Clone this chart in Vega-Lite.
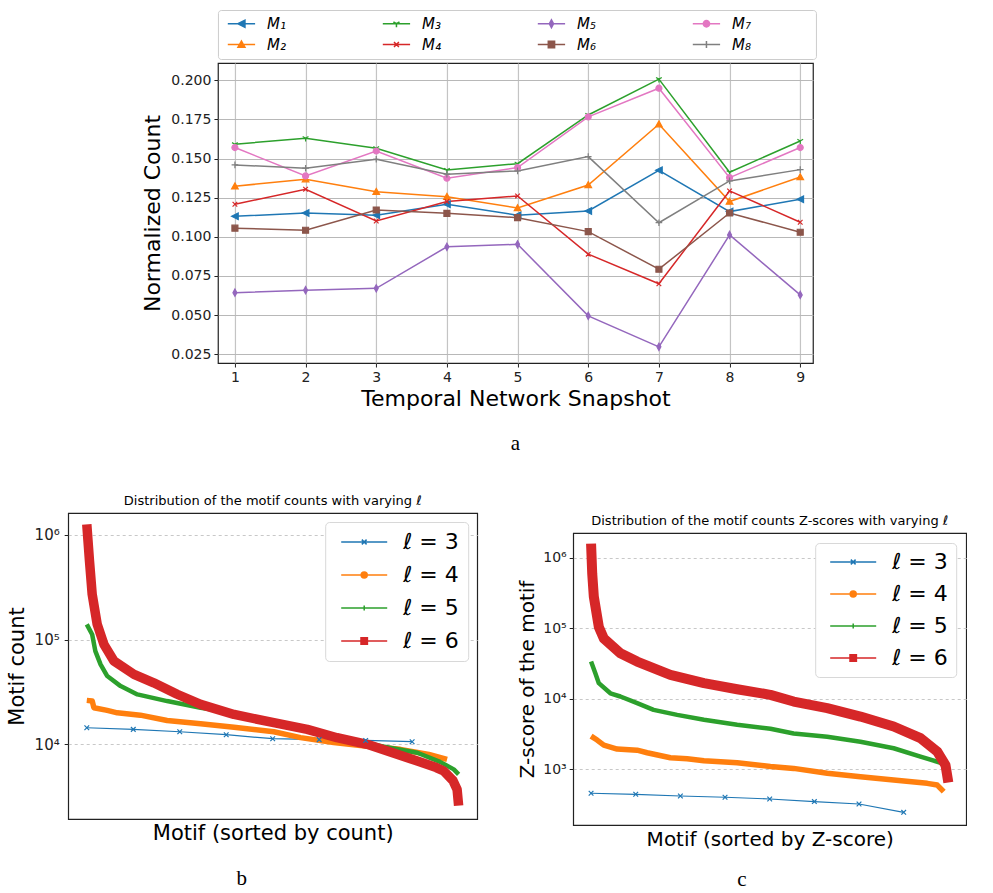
{
  "$schema": "https://vega.github.io/schema/vega-lite/v6.json",
  "padding": {"left": 5, "top": 8, "right": 0, "bottom": 0},
  "background": "white",
  "config": {
    "font": "DejaVu Sans",
    "view": {"stroke": "#222", "strokeWidth": 1.2},
    "axis": {"labelFont": "DejaVu Sans", "titleFont": "DejaVu Sans", "labelColor": "#222", "titleColor": "#000", "tickColor": "#222", "domain": false, "titleFontWeight": "normal"},
    "legend": {"labelFont": "DejaVu Sans", "labelColor": "#000"},
    "title": {"font": "DejaVu Sans", "fontWeight": "normal", "color": "#000"}
  },
  "resolve": {"scale": {"color": "independent"}, "legend": {"color": "independent"}},
  "datasets": {
    "top": [
      {"s": "M₁", "t": 1, "v": 0.1131}, {"s": "M₁", "t": 2, "v": 0.1152}, {"s": "M₁", "t": 3, "v": 0.1138}, {"s": "M₁", "t": 4, "v": 0.1208}, {"s": "M₁", "t": 5, "v": 0.1138}, {"s": "M₁", "t": 6, "v": 0.1165}, {"s": "M₁", "t": 7, "v": 0.1425}, {"s": "M₁", "t": 8, "v": 0.1161}, {"s": "M₁", "t": 9, "v": 0.124},
      {"s": "M₂", "t": 1, "v": 0.1323}, {"s": "M₂", "t": 2, "v": 0.1368}, {"s": "M₂", "t": 3, "v": 0.1288}, {"s": "M₂", "t": 4, "v": 0.1256}, {"s": "M₂", "t": 5, "v": 0.1184}, {"s": "M₂", "t": 6, "v": 0.1331}, {"s": "M₂", "t": 7, "v": 0.1719}, {"s": "M₂", "t": 8, "v": 0.1225}, {"s": "M₂", "t": 9, "v": 0.1382},
      {"s": "M₃", "t": 1, "v": 0.1591}, {"s": "M₃", "t": 2, "v": 0.163}, {"s": "M₃", "t": 3, "v": 0.1566}, {"s": "M₃", "t": 4, "v": 0.1427}, {"s": "M₃", "t": 5, "v": 0.1467}, {"s": "M₃", "t": 6, "v": 0.1778}, {"s": "M₃", "t": 7, "v": 0.2007}, {"s": "M₃", "t": 8, "v": 0.1412}, {"s": "M₃", "t": 9, "v": 0.1612},
      {"s": "M₄", "t": 1, "v": 0.1208}, {"s": "M₄", "t": 2, "v": 0.1304}, {"s": "M₄", "t": 3, "v": 0.1101}, {"s": "M₄", "t": 4, "v": 0.1225}, {"s": "M₄", "t": 5, "v": 0.1261}, {"s": "M₄", "t": 6, "v": 0.0889}, {"s": "M₄", "t": 7, "v": 0.07}, {"s": "M₄", "t": 8, "v": 0.1293}, {"s": "M₄", "t": 9, "v": 0.1093},
      {"s": "M₅", "t": 1, "v": 0.0643}, {"s": "M₅", "t": 2, "v": 0.0659}, {"s": "M₅", "t": 3, "v": 0.0671}, {"s": "M₅", "t": 4, "v": 0.0936}, {"s": "M₅", "t": 5, "v": 0.0952}, {"s": "M₅", "t": 6, "v": 0.0495}, {"s": "M₅", "t": 7, "v": 0.0297}, {"s": "M₅", "t": 8, "v": 0.1012}, {"s": "M₅", "t": 9, "v": 0.0629},
      {"s": "M₆", "t": 1, "v": 0.1055}, {"s": "M₆", "t": 2, "v": 0.1042}, {"s": "M₆", "t": 3, "v": 0.1171}, {"s": "M₆", "t": 4, "v": 0.115}, {"s": "M₆", "t": 5, "v": 0.1122}, {"s": "M₆", "t": 6, "v": 0.1033}, {"s": "M₆", "t": 7, "v": 0.0793}, {"s": "M₆", "t": 8, "v": 0.1152}, {"s": "M₆", "t": 9, "v": 0.1029},
      {"s": "M₇", "t": 1, "v": 0.157}, {"s": "M₇", "t": 2, "v": 0.1389}, {"s": "M₇", "t": 3, "v": 0.1548}, {"s": "M₇", "t": 4, "v": 0.1374}, {"s": "M₇", "t": 5, "v": 0.1442}, {"s": "M₇", "t": 6, "v": 0.1766}, {"s": "M₇", "t": 7, "v": 0.1949}, {"s": "M₇", "t": 8, "v": 0.1378}, {"s": "M₇", "t": 9, "v": 0.157},
      {"s": "M₈", "t": 1, "v": 0.1459}, {"s": "M₈", "t": 2, "v": 0.1438}, {"s": "M₈", "t": 3, "v": 0.1495}, {"s": "M₈", "t": 4, "v": 0.14}, {"s": "M₈", "t": 5, "v": 0.1421}, {"s": "M₈", "t": 6, "v": 0.1512}, {"s": "M₈", "t": 7, "v": 0.109}, {"s": "M₈", "t": 8, "v": 0.1357}, {"s": "M₈", "t": 9, "v": 0.1429}
    ],
    "b": [
      {"l": "ℓ = 3", "r": 0, "v": 14400}, {"l": "ℓ = 3", "r": 0.125, "v": 13900}, {"l": "ℓ = 3", "r": 0.25, "v": 13200}, {"l": "ℓ = 3", "r": 0.375, "v": 12360}, {"l": "ℓ = 3", "r": 0.5, "v": 11320}, {"l": "ℓ = 3", "r": 0.625, "v": 11100}, {"l": "ℓ = 3", "r": 0.75, "v": 10900}, {"l": "ℓ = 3", "r": 0.875, "v": 10600},
      {"l": "ℓ = 4", "r": 0, "v": 26300}, {"l": "ℓ = 4", "r": 0.0145, "v": 26000}, {"l": "ℓ = 4", "r": 0.019, "v": 22400}, {"l": "ℓ = 4", "r": 0.055, "v": 21100}, {"l": "ℓ = 4", "r": 0.082, "v": 20000}, {"l": "ℓ = 4", "r": 0.144, "v": 19000}, {"l": "ℓ = 4", "r": 0.216, "v": 16900}, {"l": "ℓ = 4", "r": 0.306, "v": 15700}, {"l": "ℓ = 4", "r": 0.396, "v": 14600}, {"l": "ℓ = 4", "r": 0.503, "v": 13200}, {"l": "ℓ = 4", "r": 0.575, "v": 11600}, {"l": "ℓ = 4", "r": 0.664, "v": 10400}, {"l": "ℓ = 4", "r": 0.754, "v": 9600}, {"l": "ℓ = 4", "r": 0.843, "v": 8960}, {"l": "ℓ = 4", "r": 0.92, "v": 8000}, {"l": "ℓ = 4", "r": 0.969, "v": 7190},
      {"l": "ℓ = 5", "r": 0, "v": 140000}, {"l": "ℓ = 5", "r": 0.0145, "v": 112000}, {"l": "ℓ = 5", "r": 0.023, "v": 77800}, {"l": "ℓ = 5", "r": 0.037, "v": 58000}, {"l": "ℓ = 5", "r": 0.055, "v": 44900}, {"l": "ℓ = 5", "r": 0.091, "v": 36000}, {"l": "ℓ = 5", "r": 0.136, "v": 30000}, {"l": "ℓ = 5", "r": 0.216, "v": 25900}, {"l": "ℓ = 5", "r": 0.306, "v": 22400}, {"l": "ℓ = 5", "r": 0.396, "v": 20000}, {"l": "ℓ = 5", "r": 0.503, "v": 15600}, {"l": "ℓ = 5", "r": 0.6, "v": 13300}, {"l": "ℓ = 5", "r": 0.7, "v": 11200}, {"l": "ℓ = 5", "r": 0.8, "v": 9500}, {"l": "ℓ = 5", "r": 0.889, "v": 8310}, {"l": "ℓ = 5", "r": 0.95, "v": 6800}, {"l": "ℓ = 5", "r": 0.987, "v": 5770}, {"l": "ℓ = 5", "r": 1.0, "v": 5170},
      {"l": "ℓ = 6", "r": 0, "v": 1260000}, {"l": "ℓ = 6", "r": 0.0073, "v": 562000}, {"l": "ℓ = 6", "r": 0.0145, "v": 271000}, {"l": "ℓ = 6", "r": 0.028, "v": 140000}, {"l": "ℓ = 6", "r": 0.046, "v": 90200}, {"l": "ℓ = 6", "r": 0.073, "v": 62500}, {"l": "ℓ = 6", "r": 0.127, "v": 46600}, {"l": "ℓ = 6", "r": 0.18, "v": 38700}, {"l": "ℓ = 6", "r": 0.243, "v": 30100}, {"l": "ℓ = 6", "r": 0.306, "v": 24100}, {"l": "ℓ = 6", "r": 0.396, "v": 19300}, {"l": "ℓ = 6", "r": 0.503, "v": 16100}, {"l": "ℓ = 6", "r": 0.593, "v": 13900}, {"l": "ℓ = 6", "r": 0.673, "v": 11570}, {"l": "ℓ = 6", "r": 0.754, "v": 10000}, {"l": "ℓ = 6", "r": 0.889, "v": 6930}, {"l": "ℓ = 6", "r": 0.94, "v": 6000}, {"l": "ℓ = 6", "r": 0.96, "v": 5560}, {"l": "ℓ = 6", "r": 0.985, "v": 4500}, {"l": "ℓ = 6", "r": 0.996, "v": 3700}, {"l": "ℓ = 6", "r": 1.0, "v": 2600}
    ],
    "c": [
      {"l": "ℓ = 3", "r": 0, "v": 457}, {"l": "ℓ = 3", "r": 0.125, "v": 442}, {"l": "ℓ = 3", "r": 0.25, "v": 418}, {"l": "ℓ = 3", "r": 0.375, "v": 401}, {"l": "ℓ = 3", "r": 0.5, "v": 379}, {"l": "ℓ = 3", "r": 0.625, "v": 348}, {"l": "ℓ = 3", "r": 0.75, "v": 322}, {"l": "ℓ = 3", "r": 0.875, "v": 245},
      {"l": "ℓ = 4", "r": 0, "v": 2960}, {"l": "ℓ = 4", "r": 0.017, "v": 2600}, {"l": "ℓ = 4", "r": 0.0357, "v": 2200}, {"l": "ℓ = 4", "r": 0.073, "v": 1940}, {"l": "ℓ = 4", "r": 0.129, "v": 1870}, {"l": "ℓ = 4", "r": 0.157, "v": 1720}, {"l": "ℓ = 4", "r": 0.222, "v": 1460}, {"l": "ℓ = 4", "r": 0.269, "v": 1410}, {"l": "ℓ = 4", "r": 0.316, "v": 1320}, {"l": "ℓ = 4", "r": 0.409, "v": 1240}, {"l": "ℓ = 4", "r": 0.502, "v": 1100}, {"l": "ℓ = 4", "r": 0.567, "v": 1030}, {"l": "ℓ = 4", "r": 0.661, "v": 877}, {"l": "ℓ = 4", "r": 0.754, "v": 786}, {"l": "ℓ = 4", "r": 0.847, "v": 705}, {"l": "ℓ = 4", "r": 0.941, "v": 632}, {"l": "ℓ = 4", "r": 0.969, "v": 598}, {"l": "ℓ = 4", "r": 0.987, "v": 481},
      {"l": "ℓ = 5", "r": 0, "v": 33800}, {"l": "ℓ = 5", "r": 0.012, "v": 23100}, {"l": "ℓ = 5", "r": 0.0217, "v": 16700}, {"l": "ℓ = 5", "r": 0.054, "v": 12000}, {"l": "ℓ = 5", "r": 0.082, "v": 10800}, {"l": "ℓ = 5", "r": 0.129, "v": 8690}, {"l": "ℓ = 5", "r": 0.175, "v": 6980}, {"l": "ℓ = 5", "r": 0.241, "v": 5930}, {"l": "ℓ = 5", "r": 0.316, "v": 5040}, {"l": "ℓ = 5", "r": 0.409, "v": 4280}, {"l": "ℓ = 5", "r": 0.502, "v": 3760}, {"l": "ℓ = 5", "r": 0.567, "v": 3230}, {"l": "ℓ = 5", "r": 0.661, "v": 2890}, {"l": "ℓ = 5", "r": 0.754, "v": 2460}, {"l": "ℓ = 5", "r": 0.847, "v": 1990}, {"l": "ℓ = 5", "r": 0.922, "v": 1510}, {"l": "ℓ = 5", "r": 0.983, "v": 1220},
      {"l": "ℓ = 6", "r": 0, "v": 1600000}, {"l": "ℓ = 6", "r": 0.0032, "v": 603000}, {"l": "ℓ = 6", "r": 0.0077, "v": 282000}, {"l": "ℓ = 6", "r": 0.0217, "v": 105000}, {"l": "ℓ = 6", "r": 0.0357, "v": 72000}, {"l": "ℓ = 6", "r": 0.082, "v": 44500}, {"l": "ℓ = 6", "r": 0.129, "v": 33800}, {"l": "ℓ = 6", "r": 0.222, "v": 21900}, {"l": "ℓ = 6", "r": 0.316, "v": 16700}, {"l": "ℓ = 6", "r": 0.409, "v": 13700}, {"l": "ℓ = 6", "r": 0.502, "v": 11400}, {"l": "ℓ = 6", "r": 0.567, "v": 9160}, {"l": "ℓ = 6", "r": 0.661, "v": 7380}, {"l": "ℓ = 6", "r": 0.754, "v": 5610}, {"l": "ℓ = 6", "r": 0.847, "v": 4050}, {"l": "ℓ = 6", "r": 0.922, "v": 2770}, {"l": "ℓ = 6", "r": 0.969, "v": 1780}, {"l": "ℓ = 6", "r": 0.992, "v": 1150}, {"l": "ℓ = 6", "r": 1.0, "v": 650}
    ]
  },
  "vconcat": [
    {
      "width": 595,
      "height": 300,
      "data": {"name": "top"},
      "title": {"text": "a", "orient": "bottom", "anchor": "middle", "font": "Liberation Serif", "fontSize": 21, "fontWeight": "normal", "offset": 24},
      "encoding": {
        "x": {"field": "t", "type": "quantitative", "scale": {"domain": [0.76, 9.18], "nice": false, "zero": false},
              "axis": {"values": [1, 2, 3, 4, 5, 6, 7, 8, 9], "title": "Temporal Network Snapshot", "titleFontSize": 22, "labelFontSize": 14, "tickSize": 4, "grid": true, "gridColor": "#c4c4c4", "gridWidth": 1.2, "titlePadding": 4, "labelPadding": 3}},
        "y": {"field": "v", "type": "quantitative", "scale": {"domain": [0.0194, 0.211], "nice": false, "zero": false},
              "axis": {"values": [0.025, 0.05, 0.075, 0.1, 0.125, 0.15, 0.175, 0.2], "format": ".3f", "title": "Normalized Count", "titleFontSize": 22, "labelFontSize": 14, "tickSize": 4, "grid": true, "gridColor": "#b8b8b8", "gridWidth": 1, "titlePadding": 6, "labelPadding": 3}},
        "color": {"field": "s", "type": "nominal",
                  "scale": {"domain": ["M₁", "M₃", "M₅", "M₇", "M₂", "M₄", "M₆", "M₈"], "range": ["#1f77b4", "#2ca02c", "#9467bd", "#e377c2", "#ff7f0e", "#d62728", "#8c564b", "#7f7f7f"]},
                  "legend": {"title": null, "orient": "top", "direction": "horizontal", "columns": 4, "labelFontSize": 15, "labelFontStyle": "italic", "labelExpr": "datum.label + '\u00a0\u00a0\u00a0\u00a0\u00a0\u00a0\u00a0\u00a0\u00a0\u00a0\u2800'", "symbolSize": 49, "symbolOffset": 10, "labelOffset": 18, "columnPadding": 34, "rowPadding": 5, "padding": 6, "strokeColor": "#cccccc", "cornerRadius": 3, "offset": 4,
                    "encoding": {"symbols": {
                      "shape": {"value": {"expr": "datum.value==='M₁'?'M-3.9,0L3.9,0M-1,0L1,-1L1,1Z':datum.value==='M₂'?'M-3.9,0L3.9,0M0,-1L1,0.8L-1,0.8Z':datum.value==='M₃'?'M-3.9,0L3.9,0M0,0L0,1M0,0L-0.87,-0.5M0,0L0.87,-0.5':datum.value==='M₄'?'M-3.9,0L3.9,0M-0.7,-0.7L0.7,0.7M-0.7,0.7L0.7,-0.7':datum.value==='M₅'?'M-3.9,0L3.9,0M0,-1.1L0.6,0L0,1.1L-0.6,0Z':datum.value==='M₆'?'M-3.9,0L3.9,0M-0.9,-0.9L0.9,-0.9L0.9,0.9L-0.9,0.9Z':datum.value==='M₇'?'M-3.9,0L3.9,0M0.9,0A0.9,0.9 0 1,1 -0.9,0A0.9,0.9 0 1,1 0.9,0Z':'M-3.9,0L3.9,0M-1,0L1,0M0,-1L0,1'"}},
                      "fill": {"value": {"expr": "datum.value==='M₁'?'#1f77b4':datum.value==='M₂'?'#ff7f0e':datum.value==='M₃'?'#2ca02c':datum.value==='M₄'?'#d62728':datum.value==='M₅'?'#9467bd':datum.value==='M₆'?'#8c564b':datum.value==='M₇'?'#e377c2':'#7f7f7f'"}},
                      "stroke": {"value": {"expr": "datum.value==='M₁'?'#1f77b4':datum.value==='M₂'?'#ff7f0e':datum.value==='M₃'?'#2ca02c':datum.value==='M₄'?'#d62728':datum.value==='M₅'?'#9467bd':datum.value==='M₆'?'#8c564b':datum.value==='M₇'?'#e377c2':'#7f7f7f'"}},
                      "strokeWidth": {"value": 1.5},
                      "opacity": {"value": 1}
                    }}}}
      },
      "layer": [
        {"mark": {"type": "line", "strokeWidth": 1.5}},
        {"transform": [{"filter": "datum.s === 'M₁'"}], "mark": {"type": "point", "filled": true, "size": 44, "strokeWidth": 1.2, "opacity": 1, "stroke": "#1f77b4", "shape": "M-1,0L1,-1L1,1Z"}},
        {"transform": [{"filter": "datum.s === 'M₂'"}], "mark": {"type": "point", "filled": true, "size": 44, "strokeWidth": 1.2, "opacity": 1, "stroke": "#ff7f0e", "shape": "M0,-1L1,0.8L-1,0.8Z"}},
        {"transform": [{"filter": "datum.s === 'M₃'"}], "mark": {"type": "point", "filled": true, "size": 44, "strokeWidth": 1.2, "opacity": 1, "stroke": "#2ca02c", "shape": "M0,0L0,1M0,0L-0.87,-0.5M0,0L0.87,-0.5"}},
        {"transform": [{"filter": "datum.s === 'M₄'"}], "mark": {"type": "point", "filled": true, "size": 44, "strokeWidth": 1.2, "opacity": 1, "stroke": "#d62728", "shape": "M-0.7,-0.7L0.7,0.7M-0.7,0.7L0.7,-0.7"}},
        {"transform": [{"filter": "datum.s === 'M₅'"}], "mark": {"type": "point", "filled": true, "size": 44, "strokeWidth": 1.2, "opacity": 1, "stroke": "#9467bd", "shape": "M0,-1.1L0.6,0L0,1.1L-0.6,0Z"}},
        {"transform": [{"filter": "datum.s === 'M₆'"}], "mark": {"type": "point", "filled": true, "size": 44, "strokeWidth": 1.2, "opacity": 1, "stroke": "#8c564b", "shape": "M-0.9,-0.9L0.9,-0.9L0.9,0.9L-0.9,0.9Z"}},
        {"transform": [{"filter": "datum.s === 'M₇'"}], "mark": {"type": "point", "filled": true, "size": 44, "strokeWidth": 1.2, "opacity": 1, "stroke": "#e377c2", "shape": "M0.9,0A0.9,0.9 0 1,1 -0.9,0A0.9,0.9 0 1,1 0.9,0Z"}},
        {"transform": [{"filter": "datum.s === 'M₈'"}], "mark": {"type": "point", "filled": true, "size": 44, "strokeWidth": 1.2, "opacity": 1, "stroke": "#7f7f7f", "shape": "M-1,0L1,0M0,-1L0,1"}}
      ]
    },
    {
      "resolve": {"scale": {"color": "independent"}, "legend": {"color": "independent"}},
      "spacing": 38,
      "hconcat": [
        {
          "title": {"text": "b", "orient": "bottom", "anchor": "middle", "font": "Liberation Serif", "fontSize": 21, "fontWeight": "normal", "offset": 24},
          "resolve": {"scale": {"color": "independent"}, "legend": {"color": "independent"}},
          "vconcat": [
            {
              "width": 409,
              "height": 306,
              "data": {"name": "b"},
              "title": {"text": "Distribution of the motif counts with varying ℓ", "fontSize": 13, "offset": 5, "anchor": "middle"},
              "encoding": {
                "x": {"field": "r", "type": "quantitative", "scale": {"domain": [-0.05, 1.05], "nice": false, "zero": false},
                      "axis": {"labels": false, "ticks": false, "grid": false, "title": "Motif (sorted by count)", "titleFontSize": 21, "titlePadding": 3}},
                "y": {"field": "v", "type": "quantitative", "scale": {"type": "log", "domain": [1937, 1620000], "nice": false},
                      "axis": {"values": [10000, 100000, 1000000], "labelExpr": "datum.value >= 999999 ? '10⁶' : datum.value >= 99999 ? '10⁵' : datum.value >= 9999 ? '10⁴' : '10³'", "title": "Motif count", "titleFontSize": 21, "labelFontSize": 15, "tickSize": 4, "grid": true, "gridDash": [3, 3], "gridColor": "#c8c8c8", "titlePadding": 7, "labelPadding": 5}},
                "color": {"field": "l", "type": "nominal", "scale": {"domain": ["ℓ = 3", "ℓ = 4", "ℓ = 5", "ℓ = 6"], "range": ["#1f77b4", "#ff7f0e", "#2ca02c", "#d62728"]},
                          "legend": {"title": null, "orient": "top-right", "offset": 9, "labelFontSize": 22, "symbolSize": 64, "symbolOffset": 19, "labelOffset": 28, "rowPadding": 11, "padding": 9, "fillColor": "white", "strokeColor": "#d8d8d8", "cornerRadius": 4,
                            "encoding": {"symbols": {
                              "shape": {"value": {"expr": "datum.value==='ℓ = 3'?'M-5.75,0L5.75,0M-0.6,-0.6L0.6,0.6M-0.6,0.6L0.6,-0.6':datum.value==='ℓ = 4'?'M-5.75,0L5.75,0M0.75,0A0.75,0.75 0 1,1 -0.75,0A0.75,0.75 0 1,1 0.75,0Z':datum.value==='ℓ = 5'?'M-5.75,0L5.75,0M0,-0.6L0,0.6':'M-5.75,0L5.75,0M-0.8,-0.8L0.8,-0.8L0.8,0.8L-0.8,0.8Z'"}},
                              "fill": {"value": {"expr": "datum.value==='ℓ = 3'?'#1f77b4':datum.value==='ℓ = 4'?'#ff7f0e':datum.value==='ℓ = 5'?'#2ca02c':'#d62728'"}},
                              "stroke": {"value": {"expr": "datum.value==='ℓ = 3'?'#1f77b4':datum.value==='ℓ = 4'?'#ff7f0e':datum.value==='ℓ = 5'?'#2ca02c':'#d62728'"}},
                              "strokeWidth": {"value": 1.5},
                              "opacity": {"value": 1}
                            }}}}
              },
              "layer": [
                {"transform": [{"filter": "datum.l === 'ℓ = 3'"}], "mark": {"type": "line", "strokeWidth": 1.2}},
                {"transform": [{"filter": "datum.l === 'ℓ = 4'"}], "mark": {"type": "line", "strokeWidth": 5.5, "strokeCap": "butt", "strokeJoin": "round"}},
                {"transform": [{"filter": "datum.l === 'ℓ = 5'"}], "mark": {"type": "line", "strokeWidth": 4.5, "strokeCap": "butt", "strokeJoin": "round"}},
                {"transform": [{"filter": "datum.l === 'ℓ = 6'"}], "mark": {"type": "line", "strokeWidth": 9.5, "strokeCap": "butt", "strokeJoin": "round"}},
                {"transform": [{"filter": "datum.l === 'ℓ = 3'"}], "mark": {"type": "point", "filled": false, "shape": "M-1,-1L1,1M-1,1L1,-1", "size": 22, "strokeWidth": 1.2, "opacity": 1}}
              ]
            }
          ]
        },
        {
          "title": {"text": "c", "orient": "bottom", "anchor": "middle", "font": "Liberation Serif", "fontSize": 21, "fontWeight": "normal", "offset": 19},
          "resolve": {"scale": {"color": "independent"}, "legend": {"color": "independent"}},
          "spacing": 0,
          "vconcat": [
            {
              "width": 393,
              "height": 1,
              "data": {"values": []},
              "mark": {"type": "point"},
              "view": {"stroke": null}
            },
            {
              "width": 393,
              "height": 292,
              "data": {"name": "c"},
              "title": {"text": "Distribution of the motif counts Z-scores with varying ℓ", "fontSize": 13, "offset": 5, "anchor": "middle"},
              "encoding": {
                "x": {"field": "r", "type": "quantitative", "scale": {"domain": [-0.05, 1.05], "nice": false, "zero": false},
                      "axis": {"labels": false, "ticks": false, "grid": false, "title": "Motif (sorted by Z-score)", "titleFontSize": 20, "titlePadding": 4}},
                "y": {"field": "v", "type": "quantitative", "scale": {"type": "log", "domain": [162, 2260000], "nice": false},
                      "axis": {"values": [1000, 10000, 100000, 1000000], "labelExpr": "datum.value >= 999999 ? '10⁶' : datum.value >= 99999 ? '10⁵' : datum.value >= 9999 ? '10⁴' : '10³'", "title": "Z-score of the motif", "titleFontSize": 20, "labelFontSize": 14, "tickSize": 4, "grid": true, "gridDash": [3, 3], "gridColor": "#c8c8c8", "titlePadding": 5, "labelPadding": 3}},
                "color": {"field": "l", "type": "nominal", "scale": {"domain": ["ℓ = 3", "ℓ = 4", "ℓ = 5", "ℓ = 6"], "range": ["#1f77b4", "#ff7f0e", "#2ca02c", "#d62728"]},
                          "legend": {"title": null, "orient": "top-right", "offset": 10, "labelFontSize": 22, "symbolSize": 64, "symbolOffset": 19, "labelOffset": 28, "rowPadding": 10, "padding": 8, "fillColor": "white", "strokeColor": "#d8d8d8", "cornerRadius": 4,
                            "encoding": {"symbols": {
                              "shape": {"value": {"expr": "datum.value==='ℓ = 3'?'M-5.75,0L5.75,0M-0.6,-0.6L0.6,0.6M-0.6,0.6L0.6,-0.6':datum.value==='ℓ = 4'?'M-5.75,0L5.75,0M0.75,0A0.75,0.75 0 1,1 -0.75,0A0.75,0.75 0 1,1 0.75,0Z':datum.value==='ℓ = 5'?'M-5.75,0L5.75,0M0,-0.6L0,0.6':'M-5.75,0L5.75,0M-0.8,-0.8L0.8,-0.8L0.8,0.8L-0.8,0.8Z'"}},
                              "fill": {"value": {"expr": "datum.value==='ℓ = 3'?'#1f77b4':datum.value==='ℓ = 4'?'#ff7f0e':datum.value==='ℓ = 5'?'#2ca02c':'#d62728'"}},
                              "stroke": {"value": {"expr": "datum.value==='ℓ = 3'?'#1f77b4':datum.value==='ℓ = 4'?'#ff7f0e':datum.value==='ℓ = 5'?'#2ca02c':'#d62728'"}},
                              "strokeWidth": {"value": 1.5},
                              "opacity": {"value": 1}
                            }}}}
              },
              "layer": [
                {"transform": [{"filter": "datum.l === 'ℓ = 3'"}], "mark": {"type": "line", "strokeWidth": 1.2}},
                {"transform": [{"filter": "datum.l === 'ℓ = 4'"}], "mark": {"type": "line", "strokeWidth": 5.5, "strokeCap": "butt", "strokeJoin": "round"}},
                {"transform": [{"filter": "datum.l === 'ℓ = 5'"}], "mark": {"type": "line", "strokeWidth": 4.5, "strokeCap": "butt", "strokeJoin": "round"}},
                {"transform": [{"filter": "datum.l === 'ℓ = 6'"}], "mark": {"type": "line", "strokeWidth": 10, "strokeCap": "butt", "strokeJoin": "round"}},
                {"transform": [{"filter": "datum.l === 'ℓ = 3'"}], "mark": {"type": "point", "filled": false, "shape": "M-1,-1L1,1M-1,1L1,-1", "size": 22, "strokeWidth": 1.2, "opacity": 1}}
              ]
            }
          ]
        }
      ]
    }
  ],
  "spacing": 39,
  "center": true
}
